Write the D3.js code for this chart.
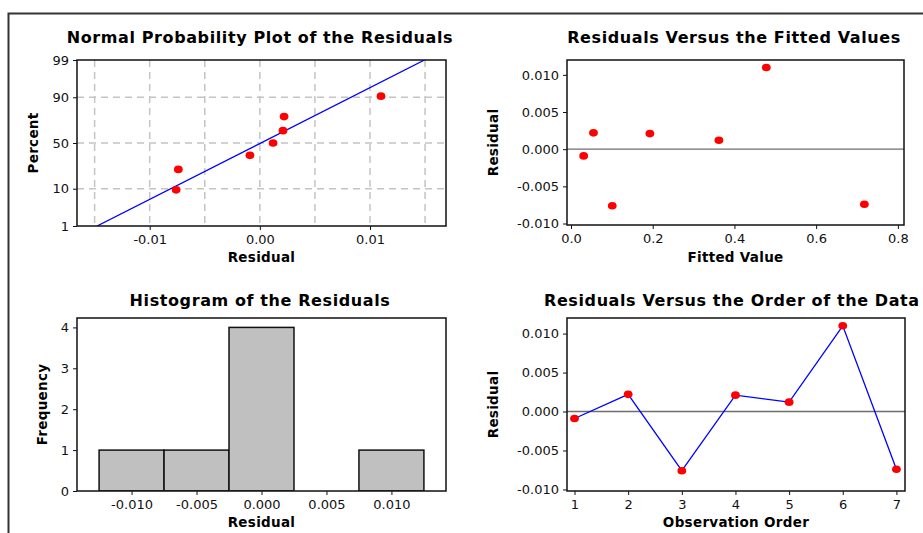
<!DOCTYPE html>
<html>
<head>
<meta charset="utf-8">
<script src="https://cdn.jsdelivr.net/npm/d3@7"></script>
<style>
  body { margin: 0; background: #fff; }
  svg { display: block; font-family: "DejaVu Sans", Verdana, sans-serif; }
</style>
</head>
<body>
<div id="chart"></div>
<script>
// residuals and fitted values, one per observation (in data order)
const observations = [1, 2, 3, 4, 5, 6, 7];
const residuals = [-0.0009, 0.0022, -0.0076, 0.0021, 0.0012, 0.0110, -0.0074];
const fitted = [0.031, 0.055, 0.101, 0.193, 0.362, 0.478, 0.718];

// histogram bins (centres) and counts
const binCenters = [-0.010, -0.005, 0.000, 0.005, 0.010];
const binCounts = [1, 1, 4, 0, 1];
const binWidth = 0.005;

// tick labels
const probTicks = [1, 10, 50, 90, 99];
const probGrid = [10, 50, 90];
const npXTicks = [-0.01, 0.00, 0.01];
const npXGrid = [-0.015, -0.01, -0.005, 0, 0.005, 0.01, 0.015];
const residTicks = [-0.010, -0.005, 0.000, 0.005, 0.010];
const fittedTicks = [0.0, 0.2, 0.4, 0.6, 0.8];
const freqTicks = [0, 1, 2, 3, 4];

const W = 923, H = 533;
const svg = d3.select("#chart").append("svg")
  .attr("width", W)
  .attr("height", H);

// outer frame (only left and top edges show)
svg.append("path")
  .attr("d", "M8.5,533V13.5H923")
  .attr("fill", "none")
  .attr("stroke", "#333")
  .attr("stroke-width", 2);

// inverse normal cdf (Acklam)
function probit(p) {
  const a = [-39.69683028665376, 220.9460984245205, -275.9285104469687, 138.3577518672690, -30.66479806614716, 2.506628277459239];
  const b = [-54.47609879822406, 161.5858368580409, -155.6989798598866, 66.80131188771972, -13.28068155288572];
  const c = [-0.007784894002430293, -0.3223964580411365, -2.400758277161838, -2.549732539343734, 4.374664141464968, 2.938163982698783];
  const d = [0.007784695709041462, 0.3224671290700398, 2.445134137142996, 3.754408661907416];
  const pl = 0.02425;
  let q, r;
  if (p < pl) {
    q = Math.sqrt(-2 * Math.log(p));
    return (((((c[0]*q+c[1])*q+c[2])*q+c[3])*q+c[4])*q+c[5]) / ((((d[0]*q+d[1])*q+d[2])*q+d[3])*q+1);
  } else if (p <= 1 - pl) {
    q = p - 0.5; r = q * q;
    return (((((a[0]*r+a[1])*r+a[2])*r+a[3])*r+a[4])*r+a[5])*q / (((((b[0]*r+b[1])*r+b[2])*r+b[3])*r+b[4])*r+1);
  }
  q = Math.sqrt(-2 * Math.log(1 - p));
  return -(((((c[0]*q+c[1])*q+c[2])*q+c[3])*q+c[4])*q+c[5]) / ((((d[0]*q+d[1])*q+d[2])*q+d[3])*q+1);
}

// minitab style numbers use a plain hyphen
const hy = f => d => f(d).replace("−", "-");
const fmt3 = hy(d3.format(".3f"));

function styleAxis(a) {
  a.select(".domain").remove();
  a.attr("font-family", "'DejaVu Sans', Verdana, sans-serif").attr("font-size", 13);
  a.selectAll(".tick line").attr("stroke", "#111");
  a.selectAll(".tick text").attr("fill", "#111");
}

function panel(cfg) {
  const g = svg.append("g");
  const x = cfg.x, y = cfg.y;
  const [x0, x1] = x.range(), [y1, y0] = y.range();

  g.append("text")
    .attr("x", cfg.titleX)
    .attr("y", cfg.titleY)
    .attr("text-anchor", cfg.titleAnchor || "middle")
    .style("font-size", "16px")
    .style("font-weight", "bold")
    .style("letter-spacing", "0.6px")
    .text(cfg.title);

  g.append("g")
    .attr("transform", `translate(0,${y1})`)
    .call(d3.axisBottom(x).tickValues(cfg.xTicks).tickFormat(cfg.xFormat)
      .tickSize(4).tickSizeOuter(0).tickPadding(5))
    .call(styleAxis);

  if (cfg.yTicks.length) {
    g.append("g")
      .attr("transform", `translate(${x0},0)`)
      .call(d3.axisLeft(y).tickValues(cfg.yTicks).tickFormat(cfg.yFormat)
        .tickSize(4).tickSizeOuter(0).tickPadding(4))
      .call(styleAxis);
  }

  g.append("text")
    .attr("x", (x0 + x1) / 2)
    .attr("y", cfg.xLabelY)
    .attr("text-anchor", "middle")
    .style("font-size", "13.5px")
    .style("font-weight", "bold")
    .style("letter-spacing", "0.3px")
    .text(cfg.xLabel);

  g.append("text")
    .attr("transform", `translate(${cfg.yLabelX},${(y0 + y1) / 2}) rotate(-90)`)
    .attr("text-anchor", "middle")
    .style("font-size", "13.5px")
    .style("font-weight", "bold")
    .style("letter-spacing", "0.3px")
    .text(cfg.yLabel);

  const plot = g.append("g");
  g.append("rect")
    .attr("x", x0).attr("y", y0)
    .attr("width", x1 - x0).attr("height", y1 - y0)
    .attr("fill", "none")
    .attr("stroke", "#111")
    .attr("stroke-width", 1.5);

  const clipId = "clip" + cfg.id;
  g.append("clipPath").attr("id", clipId)
    .append("rect").attr("x", x0).attr("y", y0).attr("width", x1 - x0).attr("height", y1 - y0);
  plot.attr("clip-path", `url(#${clipId})`);
  return { g, plot };
}

function dots(plot, data, x, y) {
  plot.selectAll(".dot")
    .data(data)
    .enter()
    .append("ellipse")
    .attr("cx", d => x(d[0]))
    .attr("cy", d => y(d[1]))
    .attr("rx", 4.4)
    .attr("ry", 3.8)
    .attr("fill", "#ff0000");
}

function zeroLine(plot, x, y) {
  plot.append("line")
    .attr("x1", x.range()[0]).attr("x2", x.range()[1])
    .attr("y1", y(0)).attr("y2", y(0))
    .attr("stroke", "#6e6e6e")
    .attr("stroke-width", 1.3);
}

// ---- Normal probability plot ----
{
  const x = d3.scaleLinear().domain([-0.0166, 0.0169]).range([77, 446]);
  // y in standard-normal units, labelled as percent
  const y = d3.scaleLinear().domain([probit(0.01), probit(0.99)]).range([226, 60]);
  const yp = p => y(probit(p / 100));

  const { g, plot } = panel({
    id: "np", x, y,
    title: "Normal Probability Plot of the Residuals", titleX: 260, titleY: 43,
    xTicks: npXTicks, xFormat: hy(d3.format(".2f")),
    yTicks: [], yFormat: d => d,
    xLabel: "Residual", xLabelY: 262,
    yLabel: "Percent", yLabelX: 38
  });

  g.append("g")
    .attr("transform", "translate(77,0)")
    .call(d3.axisLeft(y).tickValues(probTicks.map(p => probit(p / 100)))
      .tickFormat((d, i) => probTicks[i]).tickSize(4).tickSizeOuter(0).tickPadding(4))
    .call(styleAxis);

  plot.selectAll(".vgrid")
    .data(npXGrid)
    .enter()
    .append("line")
    .attr("x1", d => x(d)).attr("x2", d => x(d))
    .attr("y1", 60).attr("y2", 226)
    .attr("stroke", "#c4c4c4").attr("stroke-width", 1.5)
    .attr("stroke-dasharray", "7,5");

  plot.selectAll(".hgrid")
    .data(probGrid)
    .enter()
    .append("line")
    .attr("x1", 77).attr("x2", 446)
    .attr("y1", d => yp(d)).attr("y2", d => yp(d))
    .attr("stroke", "#c4c4c4").attr("stroke-width", 1.5)
    .attr("stroke-dasharray", "7,5");

  const mu = d3.mean(residuals), sd = d3.deviation(residuals);
  const zLo = probit(0.01), zHi = probit(0.99);
  plot.append("line")
    .attr("x1", x(mu + sd * zLo)).attr("y1", y(zLo))
    .attr("x2", x(mu + sd * zHi)).attr("y2", y(zHi))
    .attr("stroke", "#0000ff").attr("stroke-width", 1.3);

  const sorted = residuals.slice().sort(d3.ascending);
  const n = sorted.length;
  const pts = sorted.map((r, i) => [r, probit((i + 1 - 0.3) / (n + 0.4))]);
  dots(plot, pts, x, y);
}

// ---- Residuals vs fitted ----
{
  const x = d3.scaleLinear().domain([-0.0098, 0.815]).range([567, 904]);
  const y = d3.scaleLinear().domain([-0.0102, 0.0120]).range([225, 60]);
  const { plot } = panel({
    id: "fit", x, y,
    title: "Residuals Versus the Fitted Values", titleX: 734, titleY: 43,
    xTicks: fittedTicks, xFormat: d3.format(".1f"),
    yTicks: residTicks, yFormat: fmt3,
    xLabel: "Fitted Value", xLabelY: 262,
    yLabel: "Residual", yLabelX: 498
  });
  zeroLine(plot, x, y);
  dots(plot, fitted.map((f, i) => [f, residuals[i]]), x, y);
}

// ---- Histogram ----
{
  const x = d3.scaleLinear().domain([-0.0142, 0.0142]).range([77, 446]);
  const y = d3.scaleLinear().domain([0, 4.23]).range([491, 318]);
  const { plot } = panel({
    id: "hist", x, y,
    title: "Histogram of the Residuals", titleX: 260, titleY: 306,
    xTicks: residTicks, xFormat: fmt3,
    yTicks: freqTicks, yFormat: d3.format("d"),
    xLabel: "Residual", xLabelY: 527,
    yLabel: "Frequency", yLabelX: 47
  });
  plot.selectAll(".bar")
    .data(binCenters.map((c, i) => [c, binCounts[i]]))
    .enter()
    .append("rect")
    .attr("x", d => x(d[0] - binWidth / 2))
    .attr("y", d => y(d[1]))
    .attr("width", d => x(d[0] + binWidth / 2) - x(d[0] - binWidth / 2))
    .attr("height", d => y(0) - y(d[1]))
    .attr("fill", "#c0c0c0")
    .attr("stroke", "#111")
    .attr("stroke-width", 1.5);
}

// ---- Residuals vs order ----
{
  const x = d3.scaleLinear().domain([0.86, 7.16]).range([567, 905]);
  const y = d3.scaleLinear().domain([-0.0102, 0.0120]).range([491, 318]);
  const { plot } = panel({
    id: "ord", x, y,
    title: "Residuals Versus the Order of the Data", titleX: 544, titleY: 306, titleAnchor: "start",
    xTicks: observations, xFormat: d3.format("d"),
    yTicks: residTicks, yFormat: fmt3,
    xLabel: "Observation Order", xLabelY: 527,
    yLabel: "Residual", yLabelX: 498
  });
  zeroLine(plot, x, y);
  const pts = observations.map((o, i) => [o, residuals[i]]);
  plot.append("path")
    .datum(pts)
    .attr("d", d3.line().x(d => x(d[0])).y(d => y(d[1])))
    .attr("fill", "none")
    .attr("stroke", "#0000ff")
    .attr("stroke-width", 1.3);
  dots(plot, pts, x, y);
}
</script>
</body>
</html>
